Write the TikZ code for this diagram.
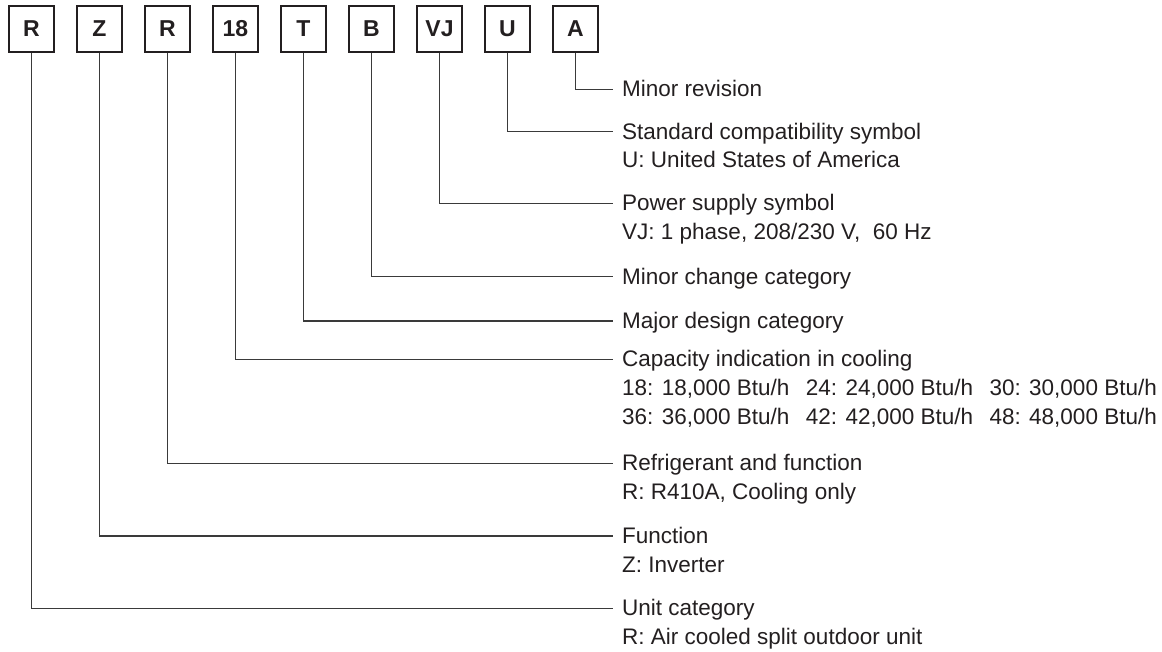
\documentclass[tikz,border=0pt]{standalone}
\usepackage{fontspec}
\setmainfont{Liberation Sans}
\definecolor{ink}{HTML}{231F20}
\definecolor{wire}{HTML}{3A3A3A}
\begin{document}
\begin{tikzpicture}[x=1pt,y=-1pt,
  codebox/.style={draw=ink,line width=1.2pt,minimum width=45pt,minimum height=46pt,inner sep=0pt,
    font=\fontsize{23}{23}\selectfont\bfseries,text=ink},
  desc/.style={anchor=base west,inner sep=0pt,align=left,text=ink,
    font=\fontsize{22.5}{28.6}\selectfont},
  wireline/.style={draw=wire,line width=1.3pt}]
\useasboundingbox (0,0) rectangle (1162,651);
% code boxes
\node[codebox] (b1) at (31.5,29) {R};
\node[codebox] (b2) at (99.5,29) {Z};
\node[codebox] (b3) at (167.5,29) {R};
\node[codebox] (b4) at (235.5,29) {18};
\node[codebox] (b5) at (303.5,29) {T};
\node[codebox] (b6) at (371.5,29) {B};
\node[codebox] (b7) at (439.5,29) {VJ};
\node[codebox] (b8) at (507.5,29) {U};
\node[codebox] (b9) at (575.5,29) {A};
% descriptions (base = baseline of the last line)
\node[desc] (t9) at (622,96.8) {Minor revision};
\node[desc] (t8) at (622,167.8) {Standard compatibility symbol\\U: United States of America};
\node[desc] (t7) at (622,239.4) {Power supply symbol\\VJ: 1 phase, 208/230 V,\ \ 60 Hz};
\node[desc] (t6) at (622,284.2) {Minor change category};
\node[desc] (t5) at (622,328.5) {Major design category};
\node[desc] (t4) at (622,424.0) {Capacity indication in cooling\\
18: 18,000 Btu/h\hspace{16.5pt}24: 24,000 Btu/h\hspace{16.5pt}30: 30,000 Btu/h\\
36: 36,000 Btu/h\hspace{16.5pt}42: 42,000 Btu/h\hspace{16.5pt}48: 48,000 Btu/h};
\node[desc] (t3) at (622,499.4) {Refrigerant and function\\R: R410A, Cooling only};
\node[desc] (t2) at (622,572.1) {Function\\Z: Inverter};
\node[desc] (t1) at (622,644.4) {Unit category\\R: Air cooled split outdoor unit};
% connector ends
\coordinate (e9) at (613,89.3);
\coordinate (e8) at (613,131.7);
\coordinate (e7) at (613,203.3);
\coordinate (e6) at (613,276.7);
\coordinate (e5) at (613,321);
\coordinate (e4) at (613,359.3);
\coordinate (e3) at (613,463.3);
\coordinate (e2) at (613,536);
\coordinate (e1) at (613,608.3);
\foreach \i in {1,...,9}{
  \draw[wireline] (b\i.south) |- (e\i);
}
\end{tikzpicture}
\end{document}
